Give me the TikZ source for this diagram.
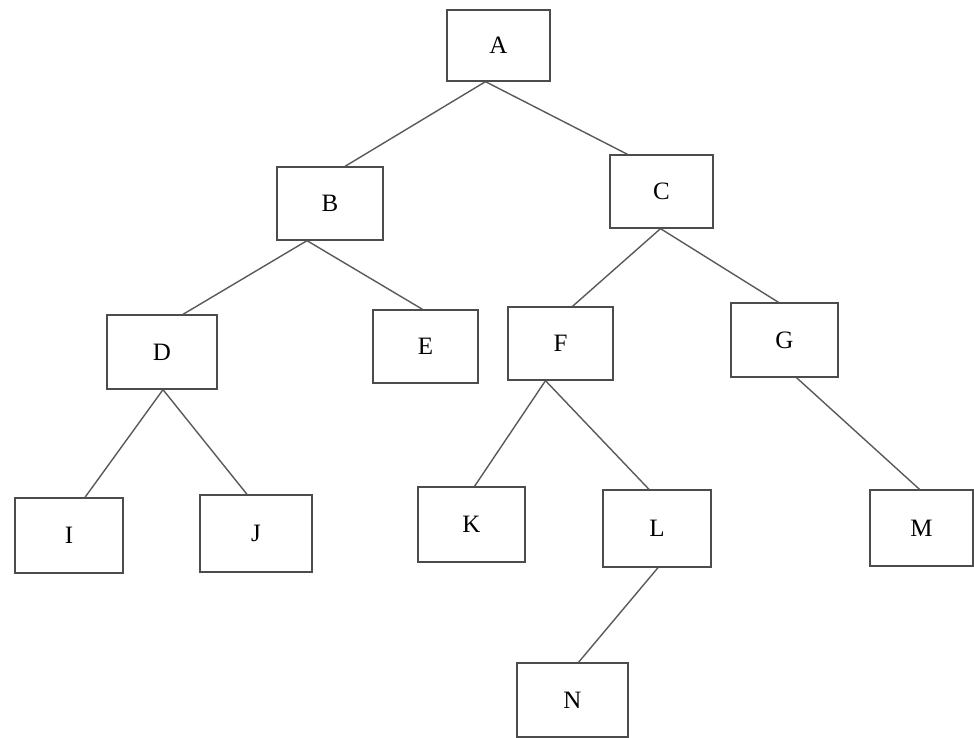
\documentclass[tikz,border=0pt]{standalone}
\usepackage{fontspec}
\setmainfont{Liberation Serif}
\begin{document}
\begin{tikzpicture}[x=1pt,y=-1pt,
  treebox/.style={draw=black!70, line width=1.3pt, rectangle, inner sep=0pt,
    font=\fontsize{25}{30}\selectfont},
  edge/.style={draw=black!65, line width=1.4pt}]
\useasboundingbox (0,0) rectangle (974,738);
\node[treebox, minimum width=103pt, minimum height=71pt] (A) at (498.5,45.5) {A};
\node[treebox, minimum width=106pt, minimum height=73pt] (B) at (330,203.5) {B};
\node[treebox, minimum width=103pt, minimum height=73pt] (C) at (661.5,191.5) {C};
\node[treebox, minimum width=110pt, minimum height=74pt] (D) at (162,352) {D};
\node[treebox, minimum width=105pt, minimum height=73pt] (E) at (425.5,346.5) {E};
\node[treebox, minimum width=105pt, minimum height=73pt] (F) at (560.5,343.5) {F};
\node[treebox, minimum width=107pt, minimum height=74pt] (G) at (784.5,340) {G};
\node[treebox, minimum width=108pt, minimum height=75pt] (I) at (69,535.5) {I};
\node[treebox, minimum width=112pt, minimum height=77pt] (J) at (256,533.5) {J};
\node[treebox, minimum width=107pt, minimum height=75pt] (K) at (471.5,524.5) {K};
\node[treebox, minimum width=108pt, minimum height=77pt] (L) at (657,528.5) {L};
\node[treebox, minimum width=103pt, minimum height=76pt] (M) at (921.5,528) {M};
\node[treebox, minimum width=111pt, minimum height=74pt] (N) at (572.5,700) {N};
\draw[edge] ([xshift=-13pt]A.south) -- ([xshift=15pt]B.north);
\draw[edge] ([xshift=-13pt]A.south) -- ([xshift=-34pt]C.north);
\draw[edge] ([xshift=-23pt]B.south) -- ([xshift=21pt]D.north);
\draw[edge] ([xshift=-23pt]B.south) -- ([xshift=-3pt]E.north);
\draw[edge] ([xshift=-1pt]C.south) -- ([xshift=12pt]F.north);
\draw[edge] ([xshift=-1pt]C.south) -- ([xshift=-6pt]G.north);
\draw[edge] ([xshift=1pt]D.south) -- ([xshift=16pt]I.north);
\draw[edge] ([xshift=1pt]D.south) -- ([xshift=-9pt]J.north);
\draw[edge] ([xshift=-15pt]F.south) -- ([xshift=3pt]K.north);
\draw[edge] ([xshift=-15pt]F.south) -- ([xshift=-8pt]L.north);
\draw[edge] ([xshift=12pt]G.south) -- ([xshift=-2pt]M.north);
\draw[edge] ([xshift=1pt]L.south) -- ([xshift=6pt]N.north);
\end{tikzpicture}
\end{document}
